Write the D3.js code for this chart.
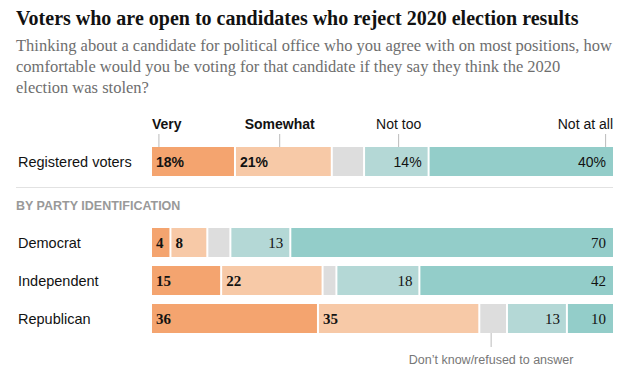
<!DOCTYPE html>
<html>
<head>
<meta charset="utf-8">
<script src="https://cdn.jsdelivr.net/npm/d3@7"></script>
<style>
  body { margin: 0; background: #fff; }
  svg { display: block; }
</style>
</head>
<body>
<svg id="chart" width="631" height="381"></svg>
<script>
// answer categories, left to right
var categories = ["Very", "Somewhat", "Don't know", "Not too", "Not at all"];
var groups = ["Registered voters", "Democrat", "Independent", "Republican"];

// percentages per group, same order as categories
var registered = [18, 21, 7, 14, 40];
var democrat = [4, 8, 5, 13, 70];
var independent = [15, 22, 3, 18, 42];
var republican = [36, 35, 6, 13, 10];

var colors = ["#f4a46f", "#f7c9a7", "#dddddd", "#b4d8d6", "#93cdc9"];

var svg = d3.select("#chart"),
    sans = "'Liberation Sans', Arial, sans-serif",
    serif = "'Liberation Serif', Georgia, serif";

var x = d3.scaleLinear().domain([0, 100]).range([152, 613]);
var y = d3.scaleOrdinal().domain(groups).range([147, 228, 266, 304]);
var barH = 29;

var color = d3.scaleOrdinal().domain(categories).range(colors);

// title + subtitle
svg.append("text")
  .attr("x", 16).attr("y", 25)
  .attr("font-family", serif).attr("font-weight", "bold")
  .attr("font-size", 20).attr("fill", "#121212")
  .text("Voters who are open to candidates who reject 2020 election results");

var sub = ["Thinking about a candidate for political office who you agree with on most positions, how",
           "comfortable would you be voting for that candidate if they say they think the 2020",
           "election was stolen?"];
svg.append("g").selectAll("text").data(sub).enter().append("text")
  .attr("x", 16).attr("y", function(d, i) { return 51 + i * 21; })
  .attr("font-family", serif).attr("font-size", 16.5).attr("fill", "#6e6e6e")
  .text(function(d) { return d; });

// category labels above the top bar
var headers = [
  {label: "Very", pos: 1.5, bold: true, anchor: "start", tx: 152},
  {label: "Somewhat", pos: 27.7, bold: true, anchor: "middle"},
  {label: "Not too", pos: 53.5, bold: false, anchor: "middle"},
  {label: "Not at all", pos: 98.4, bold: false, anchor: "end", tx: 613}
];
var hd = svg.append("g");
hd.selectAll("line").data(headers).enter().append("line")
  .attr("x1", function(d) { return x(d.pos); })
  .attr("x2", function(d) { return x(d.pos); })
  .attr("y1", 134).attr("y2", 147)
  .attr("stroke", "#bbb").attr("stroke-width", 1);
hd.selectAll("text").data(headers).enter().append("text")
  .attr("x", function(d) { return d.tx != null ? d.tx : x(d.pos); })
  .attr("y", 129)
  .attr("text-anchor", function(d) { return d.anchor; })
  .attr("font-family", sans).attr("font-size", 14)
  .attr("font-weight", function(d) { return d.bold ? "bold" : "normal"; })
  .attr("fill", "#121212")
  .text(function(d) { return d.label; });

// separator + section label
svg.append("line").attr("x1", 16).attr("x2", 613).attr("y1", 187.5).attr("y2", 187.5)
  .attr("stroke", "#e2e2e2");
svg.append("text").attr("x", 16).attr("y", 210)
  .attr("font-family", sans).attr("font-weight", "bold").attr("font-size", 12.5)
  .attr("fill", "#999").text("BY PARTY IDENTIFICATION");

function drawRow(name, vals, pct) {
  var row = categories.map(function(c, i) {
    var start = d3.sum(vals.slice(0, i));
    return {cat: c, i: i, v: vals[i], x0: start, x1: start + vals[i]};
  });
  var g = svg.append("g").attr("transform", "translate(0," + y(name) + ")");
  g.append("text").attr("x", 18).attr("y", barH / 2 + 5)
    .attr("font-family", sans).attr("font-size", 14.5).attr("fill", "#121212")
    .text(name);
  g.selectAll("rect").data(row).enter().append("rect")
    .attr("x", function(d) { return x(d.x0) + (d.i > 0 ? 1 : 0); })
    .attr("width", function(d) { return x(d.x1) - x(d.x0) - (d.i > 0 ? 1 : 0) - (d.i < 4 ? 1 : 0); })
    .attr("y", 0).attr("height", barH)
    .attr("fill", function(d) { return color(d.cat); });
  g.selectAll("text.val").data(row.filter(function(d) { return d.i != 2; }))
    .enter().append("text").attr("class", "val")
    .attr("x", function(d) { return d.i < 2 ? x(d.x0) + (d.i > 0 ? 5 : 4) : x(d.x1) - 7; })
    .attr("y", barH / 2 + 5)
    .attr("text-anchor", function(d) { return d.i < 2 ? "start" : "end"; })
    .attr("font-family", pct ? sans : serif)
    .attr("font-size", pct ? 14 : 15)
    .attr("font-weight", function(d) { return d.i < 2 ? "bold" : "normal"; })
    .attr("fill", "#121212")
    .text(function(d) { return d.v + (pct ? "%" : ""); });
  return row;
}

drawRow("Registered voters", registered, true);
drawRow("Democrat", democrat, false);
drawRow("Independent", independent, false);
var rep = drawRow("Republican", republican, false);

// don't know annotation under the Republican bar
var dk = rep[2], dkx = x((dk.x0 + dk.x1) / 2) - 2;
svg.append("line").attr("x1", dkx).attr("x2", dkx)
  .attr("y1", y("Republican") + barH).attr("y2", 347)
  .attr("stroke", "#bbb");
svg.append("text").attr("x", dkx).attr("y", 364).attr("text-anchor", "middle")
  .attr("font-family", sans).attr("font-size", 12.5).attr("fill", "#777")
  .text("Don\u2019t know/refused to answer");
</script>
</body>
</html>
